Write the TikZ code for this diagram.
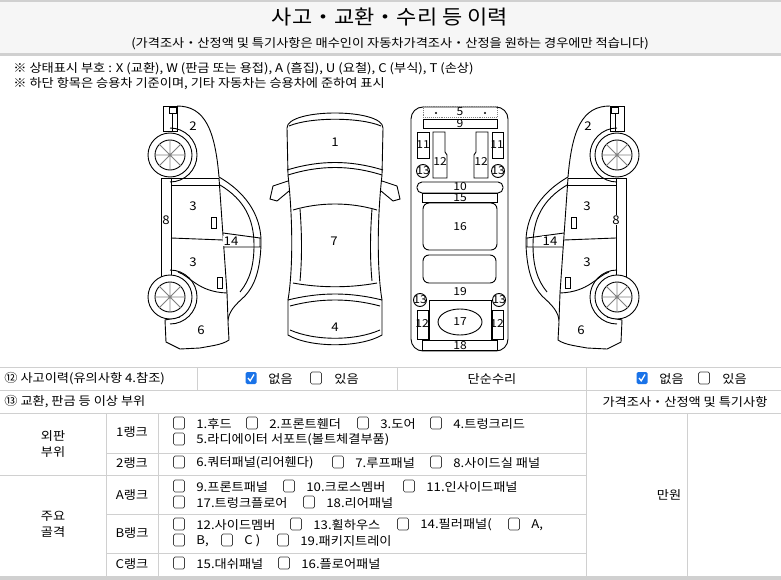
\documentclass[tikz,border=0pt]{standalone}
\usepackage{fontspec}
\setmainfont[FakeStretch=1.1]{Noto Sans CJK KR}
\definecolor{lg}{HTML}{D0D0D0}
\definecolor{bandbg}{HTML}{F6F6F6}
\definecolor{chk}{HTML}{1A73E8}
\newcommand\ubox[2]{\draw[rounded corners=1.5pt,draw=black!75,line width=0.7pt] (#1-5.5,#2-6) rectangle (#1+5.5,#2+6);}
\newcommand\cbox[2]{\fill[rounded corners=1.5pt,chk] (#1-5.5,#2-6) rectangle (#1+5.5,#2+6);\draw[white,line width=1.3pt] (#1-3,#2) -- (#1-0.8,#2+2.8) -- (#1+3,#2-3.5);}
\newcommand\sidecar{%
 \draw (163,106) rectangle (177,131);
 \draw (169,107) rectangle (176,113); \draw (172,113) -- (172,131);
 \draw (177,106) .. controls (205,106) and (215,130) .. (219,177);
 \draw (219,177) .. controls (250,195) and (262,220) .. (261,245) .. controls (260,270) and (255,285) .. (245,296);
 \draw (245,296) .. controls (235,305) and (228,312) .. (228,322) -- (229,340) .. controls (222,345) and (210,346) .. (200,348) -- (180,349) -- (166,342) -- (165,320) -- (180,317);
 \draw (170,155) ++(0,-27) arc[start angle=90,end angle=-90,radius=27pt];
 \draw (170,297) ++(0,-27) arc[start angle=90,end angle=-90,radius=27pt];
 \draw (161,178) rectangle (171,277);
 \draw (171,178) -- (219,178); \draw (171,185) -- (220,185);
 \draw (171,238) -- (223,240);
 \draw (178,272) .. controls (190,276) and (198,292) .. (227,293);
 \draw (219,178) -- (227,293);
 \draw (220,185) .. controls (245,200) and (254,220) .. (254,245) .. controls (254,265) and (250,280) .. (240,292);
 \draw (223,233) -- (260,238) -- (260,247) -- (224,247);
 \draw (211,217) rectangle (216,228); \draw (217,277) rectangle (222,288);
 \draw (227,293) -- (228,320);
 \foreach \cy in {155,297}{
  \draw[fill=white] (170,\cy) circle (22); \draw (170,\cy) circle (15);
  \draw[gray] (155,\cy) -- (185,\cy) (170,\cy-15) -- (170,\cy+15) (159.4,\cy-10.6) -- (180.6,\cy+10.6) (159.4,\cy+10.6) -- (180.6,\cy-10.6);}
}
\begin{document}
\begin{tikzpicture}[x=1pt,y=-1pt,line width=0.8pt,
 txt/.style={font=\fontsize{12}{14}\selectfont,inner sep=0pt,anchor=west},
 num/.style={font=\fontsize{12}{14}\selectfont,inner sep=0.5pt,fill=white}]
\useasboundingbox (0,0) rectangle (781,580);
\fill[white] (0,0) rectangle (781,580);
% title band
\fill[bandbg] (0,0) rectangle (781,54);
\draw[lg,line width=2pt] (0,1) -- (781,1);
\draw[lg,line width=3pt] (0,55) -- (781,55);
\node[font=\fontsize{20}{24}\selectfont] (title) at (390,17) {사고・교환・수리 등 이력};
\node[font=\fontsize{12}{14}\selectfont] (sub) at (390,44) {(가격조사・산정액 및 특기사항은 매수인이 자동차가격조사・산정을 원하는 경우에만 적습니다)};
\node[txt] (n1) at (13,69) {※ 상태표시 부호 : X (교환), W (판금 또는 용접), A (흠집), U (요철), C (부식), T (손상)};
\node[txt] (n2) at (13,84) {※ 하단 항목은 승용차 기준이며, 기타 자동차는 승용차에 준하여 표시};
\begin{scope}[line width=0.9pt]
\sidecar
\end{scope}
\begin{scope}[xshift=787pt,xscale=-1,line width=0.9pt]
\sidecar
\end{scope}
\node[num] (l2) at (193,126) {2}; \node[num] (l3a) at (193,206) {3}; \node[num] (l8) at (166,220) {8};
\node[num] (l3b) at (193,262) {3}; \node[num] (l14) at (231,241) {14}; \node[num] (l6) at (201,330) {6};
\node[num] (r2) at (588,126) {2}; \node[num] (r3a) at (587,206) {3}; \node[num] (r8) at (616,220) {8};
\node[num] (r3b) at (587,262) {3}; \node[num] (r14) at (550,241) {14}; \node[num] (r6) at (581,330) {6};
% top view car
\begin{scope}[line width=0.9pt]
\draw (288,175) -- (287,128) .. controls (287,108) and (383,108) .. (383,128) -- (382,175);
\draw (289,126) .. controls (310,117) and (360,117) .. (381,126);
\draw (287,170) .. controls (320,160) and (350,160) .. (383,170);
\draw (288,175) .. controls (320,165) and (350,165) .. (382,175);
\draw (288,175) .. controls (293,220) and (293,270) .. (288,300);
\draw (382,175) .. controls (377,220) and (377,270) .. (382,300);
\draw (293,210) .. controls (320,202) and (350,202) .. (377,210);
\draw (300,209) .. controls (302,235) and (302,260) .. (300,281);
\draw (372,209) .. controls (370,235) and (370,260) .. (372,281);
\draw (293,283) .. controls (320,288) and (350,288) .. (377,283);
\draw (288,300) .. controls (320,292) and (350,292) .. (382,300) -- (382,335) .. controls (360,348) and (310,348) .. (288,335) -- cycle;
\draw (290,306) .. controls (320,298) and (350,298) .. (380,306);
\draw (290,330) .. controls (315,341) and (355,341) .. (380,330);
\draw (288,181) -- (273,186) -- (270,199) -- (277,201) -- (289,191);
\draw (382,181) -- (397,186) -- (400,199) -- (393,201) -- (381,191);
\end{scope}
\node[num] (t1) at (335,142) {1}; \node[num] (t7) at (334,241) {7}; \node[num] (t4) at (335,327) {4};
% chassis
\begin{scope}[line width=0.9pt]
\draw[rounded corners=12pt] (411,107) rectangle (508,351);
\draw[densely dotted,gray] (423,106) rectangle (497,117);
\fill (436,113) circle (1.2); \fill (485,113) circle (1.2);
\draw (423,119) rectangle (497,128);
\draw (417,132) rectangle (429,158); \draw (492,132) rectangle (503,158);
\draw (433,132) -- (445,132) -- (445,152) -- (447,155) -- (447,178) -- (433,178) -- cycle;
\draw (488,132) -- (476,132) -- (476,152) -- (474,155) -- (474,178) -- (488,178) -- cycle;
\draw (423,171) circle (6.5); \draw (498,171) circle (6.5);
\draw[rounded corners=5pt] (417,182) rectangle (503,193);
\draw (422,193) rectangle (497,202);
\draw[rounded corners=6pt] (423,203) rectangle (497,250);
\draw[rounded corners=6pt] (423,255) rectangle (496,283);
\draw (420,300) circle (6.5); \draw (499,300) circle (6.5);
\draw (429,300) rectangle (491,340);
\draw (460,322) ellipse (22 and 13);
\draw (417,310) rectangle (428,339); \draw (492,310) rectangle (503,339);
\draw (422,340) rectangle (497,350);
\end{scope}
\foreach \nm/\x/\y/\t in {c5/460/112/5,c9/460/124/9,c11a/423/145/11,c11b/497/145/11,c12a/440/162/12,c12b/481/162/12,c13a/423/171/13,c13b/498/171/13,c10/460/187/10,c15/460/198/15,c16/460/227/16,c19/460/292/19,c13c/420/300/13,c13d/499/300/13,c17/460/322/17,c12c/422/324/12,c12d/497/324/12,c18/460/346/18}
 \node[font=\fontsize{11}{13}\selectfont,inner sep=0pt] (\nm) at (\x,\y) {\t};
% table
\begin{scope}[lg,line width=1pt]
\draw (0,367) -- (781,367); \draw (0,390) -- (781,390); \draw (0,413) -- (781,413);
\draw (197,367) -- (197,390); \draw (397,367) -- (397,390); \draw (586,367) -- (586,576);
\draw (106,413) -- (106,576); \draw (158,413) -- (158,576); \draw (687,413) -- (687,576);
\draw (106,453) -- (586,453); \draw (0,475) -- (586,475); \draw (106,514) -- (586,514); \draw (106,553) -- (586,553);
\draw (0,576) -- (781,576);
\end{scope}
\draw[lg,line width=3pt] (0,578.5) -- (781,578.5);
\node[txt] (r1) at (4,379) {⑫ 사고이력(유의사항 4.참조)};
\cbox{251}{378} \node[txt] (a1) at (268,379) {없음};
\ubox{316}{378} \node[txt] (a2) at (334,379) {있음};
\node[font=\fontsize{12}{14}\selectfont] (dan) at (492,379) {단순수리};
\cbox{642}{378} \node[txt] (a3) at (659,379) {없음};
\ubox{704}{378} \node[txt] (a4) at (722,379) {있음};
\node[txt] (r2t) at (4,402) {⑬ 교환, 판금 등 이상 부위};
\node[font=\fontsize{12}{14}\selectfont] (gj) at (685,402) {가격조사・산정액 및 특기사항};
\node[font=\fontsize{12}{16}\selectfont,align=center] (wp) at (53,444) {외판\\부위};
\node[font=\fontsize{12}{16}\selectfont,align=center] (jg) at (53,524) {주요\\골격};
\node[font=\fontsize{12}{14}\selectfont] (k1) at (132,432) {1랭크};
\node[font=\fontsize{12}{14}\selectfont] (k2) at (132,463) {2랭크};
\node[font=\fontsize{12}{14}\selectfont] (kA) at (132,495) {A랭크};
\node[font=\fontsize{12}{14}\selectfont] (kB) at (132,533) {B랭크};
\node[font=\fontsize{12}{14}\selectfont] (kC) at (132,564) {C랭크};
\node[font=\fontsize{12}{14}\selectfont] (mw) at (669,495) {만원};
\foreach \bx/\y/\t [count=\i] in {179/424/1.후드,252/424/2.프론트휀더,363/424/3.도어,436/424/4.트렁크리드,179/440/5.라디에이터 서포트(볼트체결부품),179/463/6.쿼터패널(리어휀다),338/463/7.루프패널,436/463/8.사이드실 패널,179/487/9.프론트패널,289/487/10.크로스멤버,409/487/11.인사이드패널,179/503/17.트렁크플로어,309/503/18.리어패널,179/525/12.사이드멤버,296/525/13.휠하우스,403/525/14.필러패널(,514/525/{A,},179/541/{B,},227/541/C ),283/541/19.패키지트레이,179/564/15.대쉬패널,284/564/16.플로어패널}{
 \ubox{\bx}{\y-1}
 \node[txt] (it\i) at (\bx+17,\y) {\t};}
\end{tikzpicture}
\end{document}
